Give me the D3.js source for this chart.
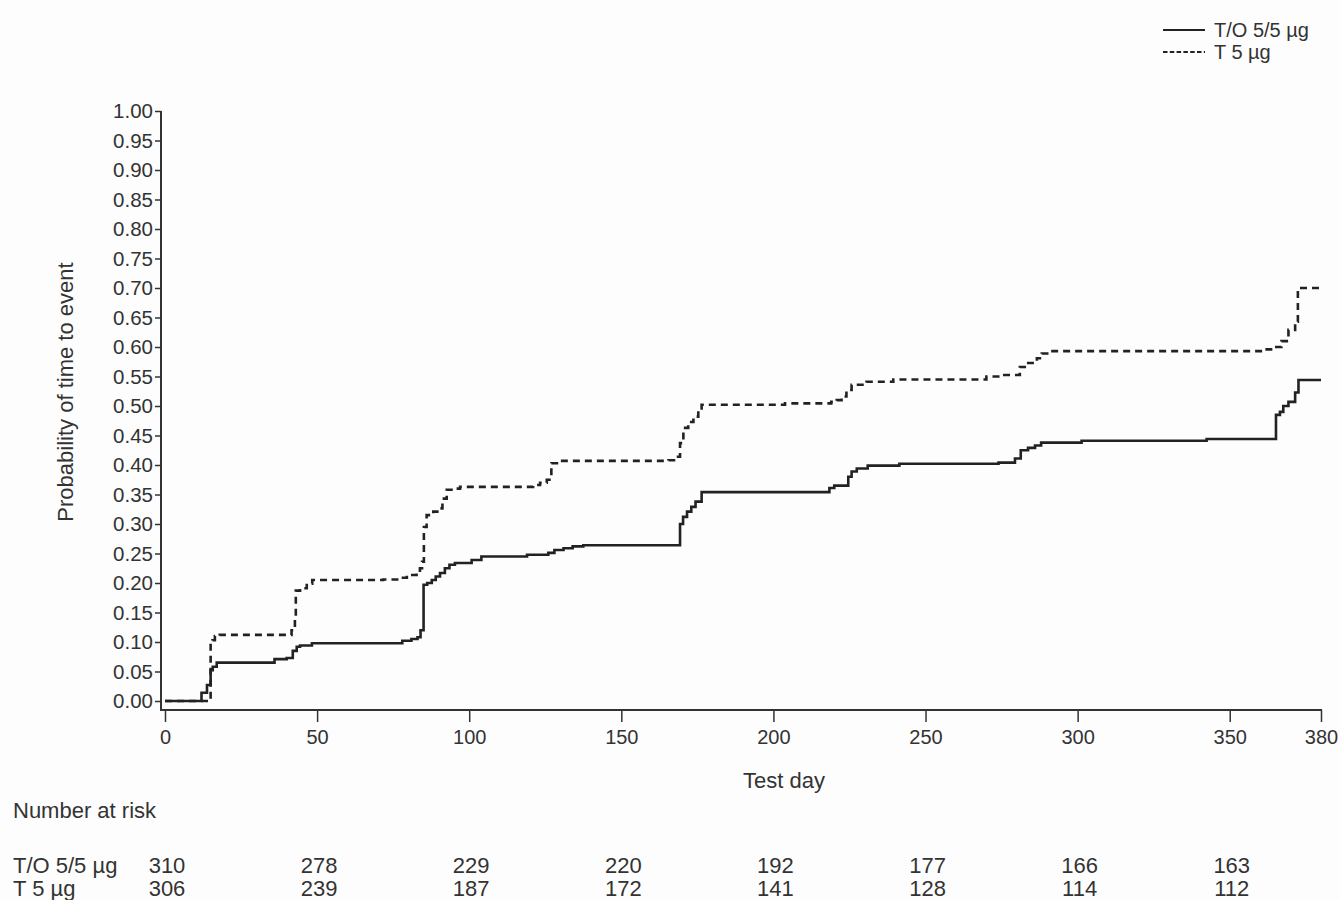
<!DOCTYPE html>
<html>
<head>
<meta charset="utf-8">
<script src="https://cdn.jsdelivr.net/npm/d3@7"></script>
<style>
  body { margin: 0; background: #fdfdfd; }
  svg { font-family: "Liberation Sans", Arial, sans-serif; }
  text { fill: #333; }
</style>
</head>
<body>
<script>
// series names
var series_names = ['T/O 5/5 \u00b5g', 'T 5 \u00b5g'];

// T/O 5/5 ug : [day, cumulative probability]
var to_steps = [[0,0],[12,0.014],[13.8,0.027],[15,0.052],[15.7,0.058],[17,0.065],[36,0.071],[40,0.073],
  [42,0.085],[43.3,0.092],[44.4,0.094],[48.3,0.098],[78,0.102],[81,0.105],[83,0.108],[84,0.12],[85,0.197],
  [86.2,0.2],[87.7,0.205],[89,0.211],[90.4,0.217],[92,0.225],[93.5,0.231],[95.3,0.234],[100.8,0.239],
  [104,0.245],[119,0.248],[126,0.251],[128,0.256],[131,0.259],[134,0.262],[137.5,0.264],[169.3,0.3],
  [170.3,0.312],[171.6,0.321],[173,0.329],[174.4,0.338],[176.4,0.354],[218.4,0.361],[220,0.365],
  [224.6,0.38],[225.7,0.389],[227.4,0.394],[231,0.399],[241.4,0.402],[274,0.404],[279.4,0.411],
  [281.3,0.425],[283.7,0.429],[286,0.433],[288,0.438],[301.3,0.441],[342.4,0.444],[365.2,0.485],
  [366.5,0.49],[367.6,0.5],[369.3,0.507],[371.5,0.523],[372.6,0.544],[380,0.544]];

// T 5 ug : [day, cumulative probability]
var t_steps = [[0,0],[15,0.095],[15.6,0.103],[16.4,0.11],[18,0.112],[41.6,0.12],[42.7,0.14],[43,0.187],
  [44.4,0.191],[46.6,0.199],[48.4,0.205],[71.7,0.206],[77,0.209],[79.5,0.2136],[82.7,0.2175],[83.8,0.225],
  [84.5,0.236],[85.1,0.295],[86,0.315],[88.2,0.321],[90,0.3265],[91.2,0.343],[92.6,0.358],[94.8,0.36],
  [97,0.363],[121,0.366],[123.3,0.37],[125.5,0.375],[127,0.403],[129.8,0.407],[165.5,0.408],[168.2,0.414],
  [169.3,0.437],[170.4,0.463],[172,0.473],[173.7,0.482],[175.3,0.493],[176.4,0.502],[203.8,0.5045],
  [219,0.507],[220.8,0.51],[222.4,0.516],[224,0.527],[225.7,0.536],[230.6,0.541],[239.4,0.545],[270,0.55],
  [274.5,0.5525],[281,0.566],[283.3,0.573],[286.6,0.581],[288.2,0.589],[291,0.593],[361.6,0.596],
  [364.3,0.6],[367,0.61],[369.3,0.629],[371.5,0.643],[372.4,0.7],[380,0.7]];

// number at risk table
var risk_days = [0, 50, 100, 150, 200, 250, 300, 350];
var to_at_risk = [310, 278, 229, 220, 192, 177, 166, 163];
var t_at_risk = [306, 239, 187, 172, 141, 128, 114, 112];

var x_ticks = [0, 50, 100, 150, 200, 250, 300, 350, 380];
var y_ticks = d3.range(0, 21).map(d => d / 20);

var width = 1340, height = 900;
var svg = d3.select('body').append('svg').attr('width', width).attr('height', height);

var x_scale = d3.scaleLinear().domain([0, 380]).range([165, 1321]);
var y_scale = d3.scaleLinear().domain([0, 1]).range([701, 111]);

// y axis
var y_axis = svg.append('g').attr('transform', 'translate(' + (x_scale(0) - 4) + ',0)')
  .call(d3.axisLeft(y_scale).tickValues(y_ticks).tickFormat(d3.format('.2f')).tickSize(6).tickPadding(2).tickSizeOuter(0));
y_axis.select('.domain').remove();
y_axis.selectAll('text').style('font-size', '20.5px').attr('fill', '#333');
y_axis.selectAll('line').attr('stroke', '#333').attr('stroke-width', 1.5);

// x axis
var x_axis = svg.append('g').attr('transform', 'translate(0,' + (y_scale(0) + 9) + ')')
  .call(d3.axisBottom(x_scale).tickValues(x_ticks).tickSize(12).tickPadding(8).tickSizeOuter(0));
x_axis.select('.domain').remove();
x_axis.selectAll('text').style('font-size', '20px').attr('fill', '#333');
x_axis.selectAll('line').attr('stroke', '#333').attr('stroke-width', 1.5);

// L-shaped frame
svg.append('path')
  .attr('d', 'M' + (x_scale(0) - 4) + ',' + y_scale(1) + 'V' + (y_scale(0) + 9) + 'H' + (x_scale(380) + 1))
  .attr('fill', 'none').attr('stroke', '#333').attr('stroke-width', 2);

// curves
var line_scale = d3.line().x(d => x_scale(d[0])).y(d => y_scale(d[1])).curve(d3.curveStepAfter);
svg.append('path').attr('d', line_scale(to_steps))
  .attr('fill', 'none').attr('stroke', '#222').attr('stroke-width', 2.6);
svg.append('path').attr('d', line_scale(t_steps))
  .attr('fill', 'none').attr('stroke', '#222').attr('stroke-width', 2.6).attr('stroke-dasharray', '7,5');

// axis titles
svg.append('text').attr('transform', 'translate(73,392) rotate(-90)')
  .attr('text-anchor', 'middle').style('font-size', '22px').text('Probability of time to event');
svg.append('text').attr('x', 784).attr('y', 788).attr('text-anchor', 'middle')
  .style('font-size', '22px').text('Test day');

// legend
var legend = svg.append('g');
legend.append('line').attr('x1', 1163).attr('x2', 1205).attr('y1', 30).attr('y2', 30)
  .attr('stroke', '#222').attr('stroke-width', 2);
legend.append('line').attr('x1', 1163).attr('x2', 1205).attr('y1', 52).attr('y2', 52)
  .attr('stroke', '#222').attr('stroke-width', 2).attr('stroke-dasharray', '4.5,2.3');
legend.append('text').attr('x', 1214).attr('y', 37).style('font-size', '20px').text(series_names[0]);
legend.append('text').attr('x', 1214).attr('y', 59).style('font-size', '20px').text(series_names[1]);

// number at risk
svg.append('text').attr('x', 13).attr('y', 818).style('font-size', '22px').text('Number at risk');
var rows = [to_at_risk, t_at_risk];
rows.forEach(function(r, i) {
  var yb = 873 + i * 23;
  svg.append('text').attr('x', 13).attr('y', yb).style('font-size', '22px').text(series_names[i]);
  svg.selectAll('.risk' + i).data(r).enter().append('text')
    .attr('class', 'risk' + i)
    .attr('x', (d, j) => x_scale(risk_days[j]) + 2)
    .attr('y', yb).attr('text-anchor', 'middle').style('font-size', '22px')
    .text(d => d);
});
</script>
</body>
</html>
